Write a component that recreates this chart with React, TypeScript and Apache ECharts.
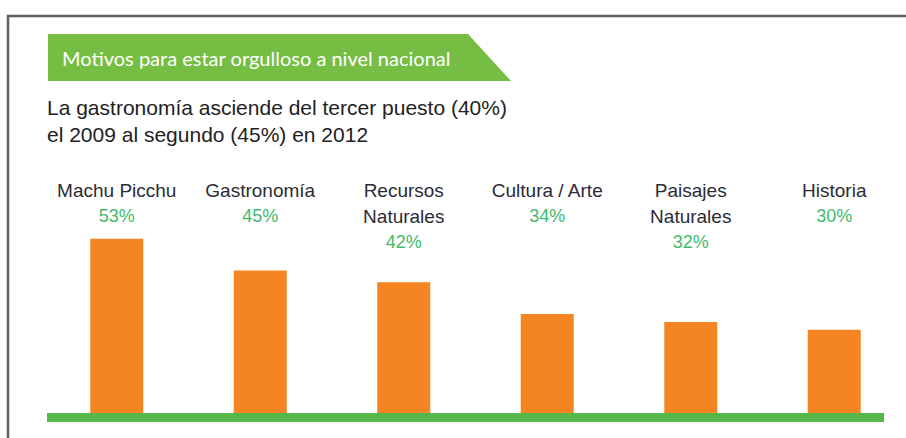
import React, { useEffect, useRef } from "react";
import * as echarts from "echarts";

const categories = ["Machu Picchu", "Gastronomía", "Recursos\nNaturales", "Cultura / Arte", "Paisajes\nNaturales", "Historia"];
const values = [53, 45, 42, 34, 32, 30];
const bannerText = "Motivos para estar orgulloso a nivel nacional";
const subtitleLines = ["La gastronomía asciende del tercer puesto (40%)", "el 2009 al segundo (45%) en 2012"];

export default function App() {
  const ref = useRef<HTMLDivElement>(null);
  useEffect(() => {
    if (!ref.current) return;
    const chart = echarts.init(ref.current, null, { renderer: "svg" });
    chart.setOption({
      animation: false,
      backgroundColor: "#ffffff",
      grid: { left: 45, right: 0, top: 177, bottom: 25 },
      xAxis: {
        type: "category",
        position: "top",
        data: categories,
        axisLine: { show: false },
        axisTick: { show: false },
        axisLabel: {
          margin: 0,
          verticalAlign: "top",
          formatter: (val: string, idx: number) => {
            const lines = val.split("\n").map((l) => `{n|${l}}`).join("\n");
            return `${lines}\n{p|${values[idx]}%}`;
          },
          rich: {
            n: { fontFamily: "Liberation Sans, Arial, sans-serif", fontSize: 19, color: "#2b2b36", lineHeight: 26, align: "center" },
            p: { fontFamily: "Liberation Sans, Arial, sans-serif", fontSize: 18, color: "#3fba6c", lineHeight: 26, align: "center" },
          },
        },
      },
      yAxis: { type: "value", min: 9, max: 68.6, show: false, splitLine: { show: false } },
      series: [
        {
          type: "bar",
          data: values,
          barWidth: 53,
          itemStyle: { color: "#f58522" },
        },
      ],
      graphic: [
        { type: "polyline", shape: { points: [[8, 438], [8, 16], [906, 16]] }, style: { stroke: "#5e5e5e", lineWidth: 2.5, fill: null } },
        { type: "polygon", shape: { points: [[48, 34], [468, 34], [511, 81], [48, 81]] }, style: { fill: "#76bd43" } },
        { type: "text", x: 62, y: 58, style: { text: bannerText, fill: "#ffffff", font: "20px Lato, sans-serif", verticalAlign: "middle" } },
        { type: "text", x: 47, y: 107, style: { text: subtitleLines[0], fill: "#222222", font: "21px 'Liberation Sans', Arial, sans-serif", verticalAlign: "middle" } },
        { type: "text", x: 47, y: 134, style: { text: subtitleLines[1], fill: "#222222", font: "21px 'Liberation Sans', Arial, sans-serif", verticalAlign: "middle" } },
        { type: "rect", shape: { x: 47, y: 413, width: 837, height: 9 }, style: { fill: "#55b74a" }, z: 10 },
      ],
    });
    return () => chart.dispose();
  }, []);
  return <div ref={ref} style={{ position: "fixed", left: 0, top: 0, width: 906, height: 438 }} />;
}
